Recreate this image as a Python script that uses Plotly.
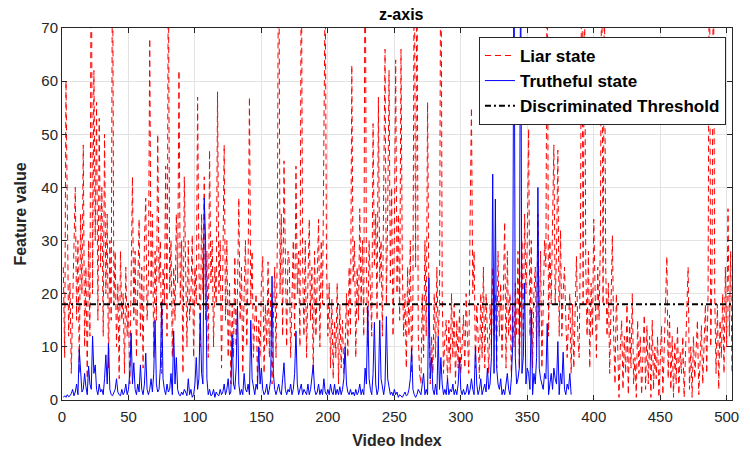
import plotly.graph_objects as go

# ---------------- data ----------------
liar_state = [
    25, 8, 60, 35, 12, 22, 5, 18, 28, 40,
    15, 30, 5, 35, 20, 48, 10, 25, 4, 30,
    12, 95, 20, 62, 30, 56, 15, 53, 25, 40,
    12, 50, 20, 35, 6, 30, 15, 90, 18, 28,
    10, 22, 4, 28, 15, 20, 5, 25, 12, 18,
    3, 30, 42, 15, 28, 8, 20, 34, 12, 25,
    6, 30, 38, 15, 22, 68, 20, 35, 8, 28,
    15, 50, 22, 30, 5, 25, 18, 44, 12, 85,
    20, 30, 8, 25, 15, 35, 22, 62, 18, 30,
    5, 42, 25, 10, 30, 15, 20, 31, 8, 25,
    18, 57, 25, 10, 35, 20, 42, 15, 28, 8,
    47, 22, 30, 10, 25, 18, 58, 20, 30, 6,
    25, 48, 15, 30, 8, 22, 3, 18, 8, 27,
    10, 20, 38, 15, 25, 5, 20, 30, 10, 25,
    57, 18, 28, 8, 15, 20, 3, 15, 8, 22,
    27, 5, 18, 10, 26, 8, 20, 3, 15, 25,
    8, 30, 100, 20, 35, 12, 45, 22, 10, 28,
    26, 8, 18, 30, 12, 44, 20, 28, 10, 90,
    25, 12, 30, 8, 22, 34, 15, 25, 5, 28,
    12, 22, 34, 10, 30, 18, 56, 80, 25, 12,
    22, 6, 19, 4, 15, 8, 22, 3, 18, 6,
    15, 5, 10, 20, 8, 25, 12, 63, 22, 30,
    8, 25, 15, 36, 18, 30, 12, 95, 25, 10,
    30, 18, 12, 52, 25, 35, 15, 57, 22, 30,
    12, 40, 66, 18, 35, 62, 22, 40, 12, 30,
    64, 20, 35, 15, 66, 25, 12, 20, 6, 25,
    12, 30, 5, 20, 90, 25, 85, 12, 5, 3,
    20, 8, 30, 12, 56, 18, 3, 12, 5, 20,
    8, 25, 12, 18, 100, 20, 5, 12, 15, 3,
    15, 5, 20, 8, 18, 3, 15, 6, 17, 5,
    12, 16, 6, 20, 12, 5, 34, 55, 20, 28,
    6, 18, 12, 4, 20, 8, 25, 6, 20, 12,
    5, 18, 10, 25, 12, 20, 6, 28, 12, 22,
    8, 20, 33.5, 6, 28, 12, 20, 5, 18, 10,
    22, 12, 28, 6, 20, 30, 12, 35, 20, 30,
    51, 12, 30, 6, 20, 25, 10, 35, 12, 28,
    6, 22, 30, 25, 90, 12, 30, 18, 35, 48,
    18, 28, 47, 12, 32, 12, 20, 25, 15, 8,
    15, 20, 5, 18, 6, 20, 27, 12, 8, 30,
    95, 18, 85, 25, 12, 28, 6, 22, 12, 34,
    18, 8, 25, 15, 30, 90, 18, 80, 25, 12,
    22, 5, 18, 31, 12, 3, 20, 8, 0.5, 10,
    15, 2, 12, 5, 18, 1, 15, 6, 20, 3,
    8, 0.5, 15, 5, 12, 1, 10, 16, 2, 14,
    3, 12, 0.5, 15, 2, 10, 4, 12, 0.5, 8,
    14, 1, 10, 18, 27, 4, 16, 2, 12, 0.5,
    11, 3, 14, 1, 9, 5, 12, 0.5, 8, 15,
    25, 2, 10, 0.5, 12, 4, 9, 15, 1, 10,
    14, 3, 12, 18, 5, 20, 95, 10, 25, 90,
    20, 5, 18, 2, 15, 8, 20, 5, 25, 10,
    36, 12, 28, 5,
]

truthful_state = [
    0.5, 0.8, 0.5, 1, 0.6, 0.8, 1.2, 2, 0.8, 1.5,
    3, 1, 9.5, 4, 1.5, 2, 5, 2.5, 1, 6.4,
    3, 2, 12, 5, 6.6, 2, 1, 3, 1.5, 2,
    1, 4, 8.5, 3, 10.6, 2, 1, 0.8, 1.5, 2,
    4, 1.5, 1, 0.8, 2, 1, 1.5, 3, 1, 2,
    5, 12.6, 3, 7, 2, 1, 3, 1.5, 6.6, 2,
    1, 3, 8.8, 2, 1, 2, 4, 1.5, 5, 15,
    3, 1.5, 2, 6, 18.5, 4, 2, 1, 3, 1.5,
    2, 5, 1, 13, 3, 8, 2, 1, 0.8, 1.5,
    1, 2, 1.5, 0.8, 4, 1, 2, 0.5, 1, 3,
    8, 2, 4, 16.4, 5, 3, 38, 30, 4, 1,
    2, 0.8, 1, 2, 0.5, 1.5, 1, 0.8, 2, 1,
    1.5, 3, 1, 2, 4, 1, 1.5, 12.3, 3, 2,
    6, 17.7, 3, 1, 2, 1, 5, 2, 1.5, 3,
    1, 15, 4, 2, 1, 3, 2, 10, 3, 6,
    2, 1, 1.5, 3, 1, 2, 4, 23.3, 5, 2,
    1, 2, 3, 1.5, 1, 4, 7, 2, 1, 2,
    1.5, 3, 1, 2, 5, 13, 3, 1, 2, 3,
    1, 2, 1.5, 1, 3, 1, 2, 4, 6.6, 2,
    1, 1.5, 3, 1, 2, 1, 4, 1.5, 1, 2,
    1, 3, 1.5, 1, 3, 1, 2, 1, 2.5, 1,
    2, 4, 10, 3, 1.5, 1, 2, 1, 1.5, 0.8,
    2, 1, 1.5, 3, 1, 2, 1, 6, 3, 17.7,
    4, 2, 1, 5, 14.6, 3, 1, 2, 15, 4,
    2, 1, 3, 15.7, 4, 2, 1, 1.5, 0.8, 2,
    1, 1.5, 0.5, 1, 0.8, 0.5, 1, 1.5, 0.8, 1,
    2, 4, 9.7, 2, 1, 0.5, 1, 2, 1.5, 1,
    3, 5, 1, 2, 1, 23, 4, 8, 2, 1,
    3, 1, 12, 2, 8, 3, 1, 2, 1, 4,
    1, 2, 1.5, 3, 1, 2, 1, 3, 8, 2,
    1, 2, 1, 1.5, 3, 1, 2, 4, 2, 1,
    10, 3, 1, 2, 4, 1, 2, 3, 1.5, 6,
    2, 3, 8, 42.5, 5, 37.8, 6, 3, 2, 4,
    1, 2, 1, 3, 5, 2, 1, 4, 10, 90,
    8, 3, 4, 6, 90, 5, 8, 22, 3, 6,
    5, 2, 17, 1, 5, 3, 8, 40, 6, 4,
    3, 2, 5, 4, 14.4, 1, 3, 5, 2, 6,
    4, 3, 11, 1, 5, 3, 9, 2, 1, 3,
    2, 5, 1,
]

threshold = 18.0
x_ticks = [0, 50, 100, 150, 200, 250, 300, 350, 400, 450, 500]
y_ticks = [0, 10, 20, 30, 40, 50, 60, 70]

x_liar = list(range(1, len(liar_state) + 1))
x_truth = list(range(1, len(truthful_state) + 1))
x_thr = [0, len(liar_state)]

FONT = "Liberation Sans, Arial, Helvetica, sans-serif"

fig = go.Figure()
fig.add_trace(go.Scatter(
    x=x_liar, y=liar_state, mode="lines", name="<b>Liar state</b>",
    line=dict(color="#ff0000", width=1, dash="6px,4px"),
))
fig.add_trace(go.Scatter(
    x=x_truth, y=truthful_state, mode="lines", name="<b>Trutheful state</b>",
    line=dict(color="#0000ff", width=1),
))
fig.add_trace(go.Scatter(
    x=x_thr, y=[threshold, threshold], mode="lines",
    name="<b>Discriminated Threshold</b>",
    line=dict(color="#000000", width=2, dash="6px,3px,2px,3px"),
))

axis_common = dict(
    showline=True, linecolor="#262626", linewidth=1, mirror="ticks",
    ticks="inside", ticklen=5, tickcolor="#262626",
    showgrid=True, gridcolor="#e3e3e3", gridwidth=1,
    zeroline=False,
    tickfont=dict(family=FONT, size=15, color="#262626"),
)

fig.update_layout(
    width=750, height=457,
    margin=dict(l=62, r=11, t=28, b=57),
    paper_bgcolor="white", plot_bgcolor="white",
    title=dict(text="<b>z-axis</b>", x=0.535, xanchor="center",
               y=1 - 14 / 457, yref="container", yanchor="middle",
               font=dict(family=FONT, size=16, color="#000000")),
    xaxis=dict(range=[0, 504], tickvals=x_ticks, ticklabelstandoff=3,
               title=dict(text="<b>Video Index</b>", standoff=10,
                          font=dict(family=FONT, size=16, color="#262626")),
               **axis_common),
    yaxis=dict(range=[0, 70], tickvals=y_ticks,
               title=dict(text="<b>Feature value</b>", standoff=10,
                          font=dict(family=FONT, size=16, color="#262626")),
               **axis_common),
    legend=dict(x=0.991, y=0.976, xanchor="right", yanchor="top",
                bgcolor="white", bordercolor="#262626", borderwidth=1,
                font=dict(family=FONT, size=17, color="#000000"),
                tracegroupgap=0),
    showlegend=True,
)

fig.write_html("out.html")
